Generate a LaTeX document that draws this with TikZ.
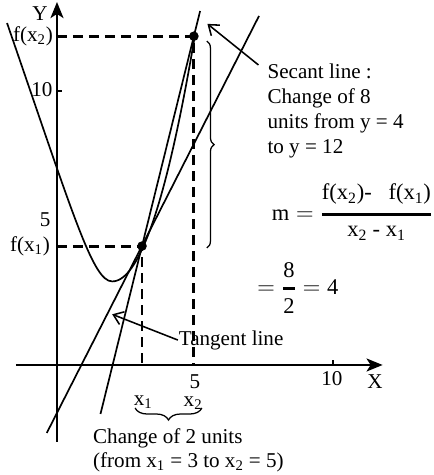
\documentclass[tikz,border=0pt]{standalone}
\usepackage{amsmath}
\usepackage{fontspec}
\setmainfont{Liberation Serif}
\usetikzlibrary{calc, arrows.meta, decorations.pathreplacing}

\begin{document}
\begin{tikzpicture}[x=0.69cm, y=0.685cm,
    every node/.style={font=\fontsize{15}{16.6}\selectfont},
    axis/.style={line width=2.1pt, -{Stealth[length=4mm, width=3.2mm, inset=1mm]}},
    guide/.style={line width=2.1pt, dash pattern=on 0.25cm off 0.15cm},
    graph/.style={line width=1.2pt},
    pointer/.style={line width=1.1pt, -{Straight Barb[length=2.3mm, width=3.4mm]}},
    bracket/.style={line width=0.9pt, decorate, decoration={brace, amplitude=#1}},
    formula/.style={inner sep=0pt, font=\fontsize{16}{18}\selectfont}]

    % Fix the picture size
    \useasboundingbox (-2.065,-4.015) rectangle (13.659,13.321);

    % Define the origin and the points on the curve
    \coordinate (O) at (0,0);
    \coordinate (P1) at (3.08,4.34);
    \coordinate (P2) at (4.96,12);

    % Draw dashed guides
    \draw[guide] (P2 -| O) -- (P2) -- (P2 |- O);
    \draw[guide] (P1 -| O) -- (P1) -- (P1 |- O);

    % Draw axes
    \draw[axis] (-1.49,0) -- (11.8,0);
    \draw[axis] (0,-2.81) -- (0,13.25);
    \node (xlabel) at (11.52,-0.61) {X};
    \node (ylabel) at (-0.62,12.83) {Y};

    % Ticks and their labels
    \draw[line width=2pt] (10,0.17) -- (10,-0.05);
    \draw[line width=1.5pt] (0,10) -- (0.18,10);
    \node (xfive) at (5,-0.62) {5};
    \node (xten) at (9.96,-0.48) {10};
    \node (yfive) at (-0.43,5.3) {5};
    \node (yten) at (-0.55,10.05) {10};
    \node[anchor=east, inner sep=0pt] (fxtwo) at (-0.14,12) {f(x\textsubscript{2})};
    \node[anchor=east, inner sep=0pt] (fxone) at (-0.25,4.34) {f(x\textsubscript{1})};

    % Draw the curve
    \draw[graph] (-1.81,12.48) .. controls (0.6,5.44) and (1.3,3.05) .. (2,3.05)
        -- plot[domain=2:4.99, samples=40] (\x,{(\x-2)^2+3.05});

    % Draw the secant and the tangent
    \draw[graph] ($(P1)!-0.8!(P2)$) -- ($(P1)!1.12!(P2)$);
    \coordinate (tanLow) at (-0.37,-2.48);
    \coordinate (tanHigh) at (7.32,12.74);
    \draw[graph] (tanLow) -- (tanHigh);

    % Mark the two points
    \fill (P1) circle (0.12cm);
    \fill (P2) circle (0.12cm);

    % Braces
    \draw[bracket=0.18cm] (5.43,11.82) -- (5.43,4.27);
    \draw[bracket=0.3cm] (5.25,-1.57) -- (2.83,-1.57);
    \node (xone) at (3.12,-1.35) {x\textsubscript{1}};
    \node (xtwo) at (4.93,-1.39) {x\textsubscript{2}};

    % Texts
    \node[anchor=north west, inner sep=0pt, align=left,
        font=\fontsize{15}{17.8}\selectfont] (secant) at (7.62,11.0)
        {Secant line :\\Change of 8\\units from y = 4\\to y = 12};
    \node[anchor=north west, inner sep=0pt, align=left] (change) at (1.30,-2.32)
        {Change of 2 units\\(from x\textsubscript{1} = 3 to x\textsubscript{2} = 5)};
    \node[anchor=west, inner sep=0.5pt] (tangent) at (4.38,0.91) {Tangent line};

    % Pointers
    \coordinate (secantTail) at (7.3,10.95);
    \coordinate (secantTip) at (5.45,12.45);
    \draw[pointer] (secantTail) -- (secantTip);
    \coordinate (tangentTip) at (2.0,1.85);
    \draw[pointer] (tangent.west) -- (tangentTip);

    % Slope
    \node[formula, anchor=east] (slope) at (13.62,5.58)
        {$\text{m} = \genfrac{}{}{2pt}{0}{\text{f(x\textsubscript{2})-\enspace\ f(x\textsubscript{1})}}{\text{x\textsubscript{2}\ -\ x\textsubscript{1}}}$};
    \node[formula, anchor=west] (ratio) at (7.25,2.81)
        {$= \genfrac{}{}{2pt}{0}{\text{8}}{\text{2}} = \text{4}$};

\end{tikzpicture}
\end{document}
